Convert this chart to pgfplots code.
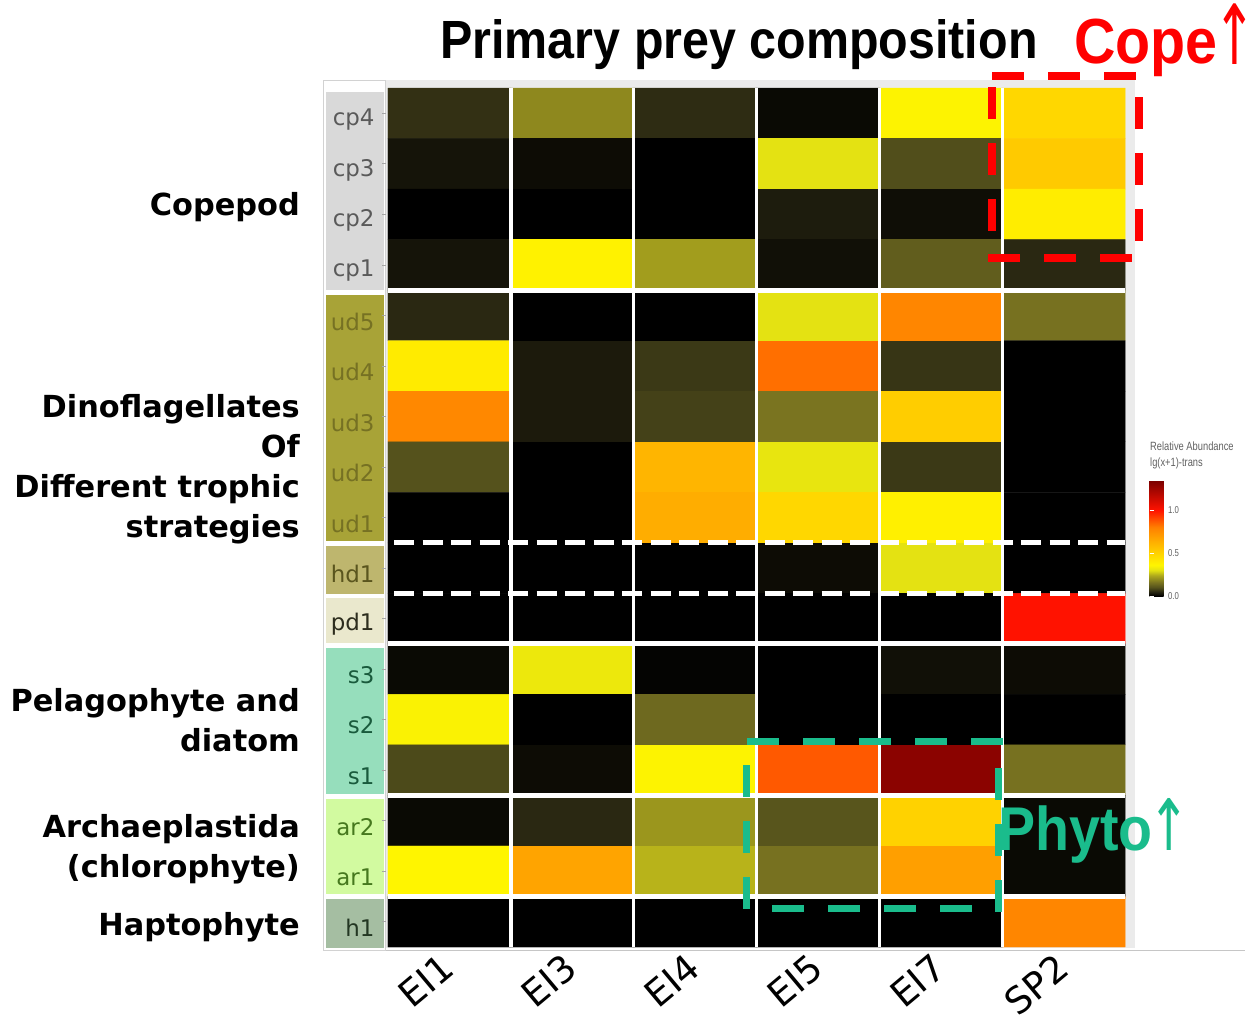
\documentclass[border=0pt]{standalone}
\usepackage{pgfplots}
\pgfplotsset{compat=1.18}
\usepackage{graphicx}
\usepackage{fontspec}
\setmainfont{DejaVu Sans}
\newfontfamily\titlefont[FakeStretch=0.9]{Liberation Sans}
\newfontfamily\narrowfont[FakeStretch=0.78]{Liberation Sans}
\newfontfamily\arrowfont{DejaVu Sans}

% strip and label colours
\definecolor{cpbox}{RGB}{217,217,217}\definecolor{cptxt}{RGB}{90,90,90}
\definecolor{udbox}{RGB}{168,163,55}\definecolor{udtxt}{RGB}{118,113,35}
\definecolor{hdbox}{RGB}{190,182,110}\definecolor{hdtxt}{RGB}{90,85,30}
\definecolor{pdbox}{RGB}{234,232,205}\definecolor{pdtxt}{RGB}{45,45,30}
\definecolor{sbox}{RGB}{150,222,188}\definecolor{stxt}{RGB}{25,90,60}
\definecolor{arbox}{RGB}{210,250,160}\definecolor{artxt}{RGB}{70,120,30}
\definecolor{hbox}{RGB}{165,190,162}\definecolor{htxt}{RGB}{35,55,35}
\definecolor{phyto}{RGB}{26,188,140}
\definecolor{copered}{RGB}{255,0,0}

% relative abundance, lg(x+1); columns EI1 EI3 EI4 EI5 EI7 SP2, rows cp4 (0) ... h1 (16)
\pgfplotstableread{
x y v
0 0 0.060
1 0 0.190
2 0 0.055
3 0 0.012
4 0 0.355
5 0 0.480
0 1 0.025
1 1 0.015
2 1 0.000
3 1 0.300
4 1 0.095
5 1 0.530
0 2 0.000
1 2 0.000
2 2 0.000
3 2 0.035
4 2 0.018
5 2 0.390
0 3 0.025
1 3 0.370
2 3 0.220
3 3 0.020
4 3 0.120
5 3 0.050
0 4 0.050
1 4 0.000
2 4 0.000
3 4 0.300
4 4 0.780
5 4 0.155
0 5 0.400
1 5 0.033
2 5 0.070
3 5 0.830
4 5 0.065
5 5 0.000
0 6 0.770
1 6 0.033
2 6 0.080
3 6 0.160
4 6 0.520
5 6 0.000
0 7 0.100
1 7 0.000
2 7 0.610
3 7 0.310
4 7 0.070
5 7 0.000
0 8 0.000
1 8 0.000
2 8 0.640
3 8 0.480
4 8 0.380
5 8 0.000
0 9 0.000
1 9 0.000
2 9 0.000
3 9 0.015
4 9 0.300
5 9 0.000
0 10 0.000
1 10 0.000
2 10 0.000
3 10 0.000
4 10 0.000
5 10 1.000
0 11 0.012
1 11 0.320
2 11 0.005
3 11 0.000
4 11 0.020
5 11 0.015
0 12 0.350
1 12 0.000
2 12 0.140
3 12 0.000
4 12 0.000
5 12 0.000
0 13 0.090
1 13 0.015
2 13 0.355
3 13 0.870
4 13 1.300
5 13 0.155
0 14 0.012
1 14 0.050
2 14 0.210
3 14 0.105
4 14 0.500
5 14 0.012
0 15 0.360
1 15 0.670
2 15 0.250
3 15 0.155
4 15 0.690
5 15 0.012
0 16 0.000
1 16 0.000
2 16 0.000
3 16 0.000
4 16 0.000
5 16 0.780
}\heat

\begin{document}
\begin{tikzpicture}
\useasboundingbox (0,0) rectangle (1248bp,-1020bp);

% frame of the label strip and axis lines
\draw[gray!35, line width=1bp] (323bp,-80bp) rectangle (385bp,-950bp);
\draw[gray!45, line width=1bp] (386bp,-950bp) -- (1245bp,-950bp);

% coloured boxes behind the row names
\fill[cpbox] (326bp,-92bp)  rectangle (384bp,-290bp);
\fill[udbox] (326bp,-295bp) rectangle (384bp,-541bp);
\fill[hdbox] (326bp,-546bp) rectangle (384bp,-594bp);
\fill[pdbox] (326bp,-598bp) rectangle (384bp,-643bp);
\fill[sbox]  (326bp,-648bp) rectangle (384bp,-794bp);
\fill[arbox] (326bp,-799bp) rectangle (384bp,-894bp);
\fill[hbox]  (326bp,-899bp) rectangle (384bp,-948bp);

\begin{axis}[
  at={(386bp,-80bp)}, anchor=north west,
  scale only axis, width=749bp, height=868bp,
  xmin=-0.516, xmax=5.58, ymin=-0.66, ymax=16.52, y dir=reverse,
  axis line style={draw=none},
  axis background/.style={fill=gray!16},
  clip=false,
  xtick={0,...,5},
  xticklabels={EI1,EI3,EI4,EI5,EI7,SP2},
  xtick pos=bottom, ytick pos=left,
  xtick style={draw=none},
  xticklabel style={rotate=40, anchor=north east, font=\fontsize{37}{39}\selectfont,
    xshift=-4bp, yshift=10bp},
  ytick={0,...,16},
  yticklabels={
    \textcolor{cptxt}{cp4},\textcolor{cptxt}{cp3},\textcolor{cptxt}{cp2},\textcolor{cptxt}{cp1},
    \textcolor{udtxt}{ud5},\textcolor{udtxt}{ud4},\textcolor{udtxt}{ud3},\textcolor{udtxt}{ud2},\textcolor{udtxt}{ud1},
    \textcolor{hdtxt}{hd1},\textcolor{pdtxt}{pd1},
    \textcolor{stxt}{s3},\textcolor{stxt}{s2},\textcolor{stxt}{s1},
    \textcolor{artxt}{ar2},\textcolor{artxt}{ar1},\textcolor{htxt}{h1}},
  ytick style={draw=gray!70, line width=0.8bp},
  major tick length=4bp, tick align=outside,
  yticklabel style={font=\fontsize{23}{25}\selectfont, xshift=-4bp, yshift=-6bp},
  colormap={heat}{[1pt]
    rgb255(0pt)=(0,0,0);
    rgb255(5pt)=(42,40,18);
    rgb255(10pt)=(85,82,28);
    rgb255(16pt)=(122,116,32);
    rgb255(24pt)=(175,170,28);
    rgb255(30pt)=(228,226,18);
    rgb255(36pt)=(255,245,0);
    rgb255(50pt)=(255,210,0);
    rgb255(65pt)=(255,170,0);
    rgb255(80pt)=(255,128,0);
    rgb255(100pt)=(255,18,0);
    rgb255(135pt)=(120,0,0)},
  point meta min=0, point meta max=1.35,
  colorbar,
  colorbar style={
    at={(parent axis.north east)}, anchor=north west,
    xshift=6bp, yshift=-400bp,
    scale only axis, width=18bp, height=116bp,
    axis line style={draw=none},
    ytick={0,0.5,1}, yticklabels={0.0,0.5,1.0},
    yticklabel style={font=\narrowfont\fontsize{10}{11}\selectfont, text=gray!75!black, xshift=-3bp},
    major tick length=4bp, tick align=inside,
    ytick style={draw=white, line width=1bp},
  },
]
\addplot[matrix plot*, mesh/cols=6, mesh/ordering=x varies, point meta=explicit]
  table[meta=v] {\heat};

% column separators
\draw[white, line width=3.5bp] (axis cs:0.5,-0.5) -- (axis cs:0.5,16.5);
\draw[white, line width=3.5bp] (axis cs:1.5,-0.5) -- (axis cs:1.5,16.5);
\draw[white, line width=3.5bp] (axis cs:2.5,-0.5) -- (axis cs:2.5,16.5);
\draw[white, line width=3.5bp] (axis cs:3.5,-0.5) -- (axis cs:3.5,16.5);
\draw[white, line width=3.5bp] (axis cs:4.5,-0.5) -- (axis cs:4.5,16.5);

% group separators
\draw[white, line width=5bp] (axis cs:-0.5,3.5) -- (axis cs:5.5,3.5);
\draw[white, line width=5bp] (axis cs:-0.5,10.5) -- (axis cs:5.5,10.5);
\draw[white, line width=5bp] (axis cs:-0.5,13.5) -- (axis cs:5.5,13.5);
\draw[white, line width=5bp] (axis cs:-0.5,15.5) -- (axis cs:5.5,15.5);
\draw[white, line width=5bp, dash pattern=on 20bp off 8.5bp] (axis cs:-0.45,8.5) -- (axis cs:5.5,8.5);
\draw[white, line width=5bp, dash pattern=on 20bp off 8.5bp] (axis cs:-0.45,9.5) -- (axis cs:5.5,9.5);
\end{axis}

% highlighted blocks: copepod prey in SP2
\begin{scope}[copered, line width=7.5bp, dash pattern=on 32bp off 24bp]
\draw (992bp,-76bp) -- (1136bp,-76bp);
\draw (988bp,-258bp) -- (1134bp,-258bp);
\draw (992bp,-87bp) -- (992bp,-232bp);
\draw (1139bp,-97bp) -- (1139bp,-241bp);
\end{scope}
% highlighted blocks: phytoplankton prey in EI5 and EI7
\begin{scope}[phyto, line width=7bp, dash pattern=on 32bp off 24bp]
\draw (747bp,-741bp) -- (1004bp,-741bp);
\draw (772bp,-908bp) -- (972bp,-908bp);
\draw (746bp,-765bp) -- (746bp,-911bp);
\draw (998bp,-768bp) -- (998bp,-913bp);
\end{scope}

% title and annotations
\node[anchor=base, inner sep=0pt] at (739bp,-58bp)
  {\titlefont\bfseries\fontsize{54}{58}\selectfont Primary prey composition};
\node[anchor=base west, inner sep=0pt, text=copered] at (1074bp,-63bp)
  {\titlefont\bfseries\fontsize{64}{68}\selectfont Cope\kern4bp\arrowfont\mdseries\makebox[26bp][c]{\raisebox{-1bp}{\scalebox{0.8}[1.3]{↑}}}};
\node[anchor=base west, inner sep=0pt, text=phyto] at (998bp,-850bp)
  {\titlefont\bfseries\fontsize{62}{66}\selectfont Phyto\kern-4bp\arrowfont\mdseries\scalebox{0.8}[1.15]{↑}};

% group names
\begin{scope}[every node/.style={anchor=east, align=right, inner sep=0pt,
    font=\bfseries\fontsize{30.5}{40}\selectfont}]
\node at (300bp,-207bp) {Copepod};
\node at (300bp,-469bp) {Dinoflagellates\\Of\\Different trophic\\strategies};
\node at (300bp,-720bp) {Pelagophyte and\\diatom};
\node at (300bp,-849bp) {Archaeplastida\\(chlorophyte)};
\node at (300bp,-927bp) {Haptophyte};
\end{scope}

% colour bar title
\node[anchor=north west, align=left, inner sep=0pt, text=gray!75!black,
  font=\narrowfont\fontsize{12}{16}\selectfont] at (1150bp,-442bp)
  {Relative Abundance\\lg(x+1)-trans};
\end{tikzpicture}
\end{document}
